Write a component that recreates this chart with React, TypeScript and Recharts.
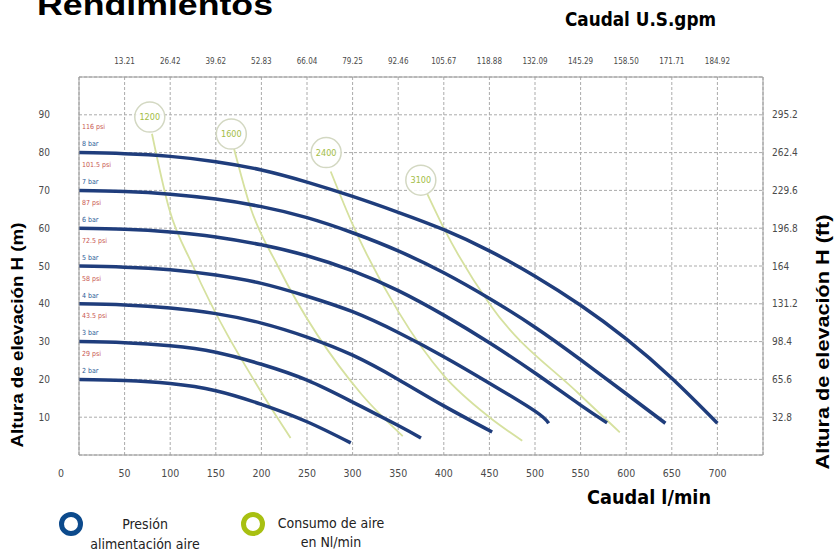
import React from 'react';
import { ComposedChart, Line, Scatter, XAxis, YAxis, CartesianGrid } from 'recharts';

// Axis ticks
const FLOW_TICKS = [0, 50, 100, 150, 200, 250, 300, 350, 400, 450, 500, 550, 600, 650, 700];
const GPM_TICKS = [50, 100, 150, 200, 250, 300, 350, 400, 450, 500, 550, 600, 650, 700];
const GPM_LABELS = ['13.21', '26.42', '39.62', '52.83', '66.04', '79.25', '92.46', '105.67', '118.88', '132.09', '145.29', '158.50', '171.71', '184.92'];
const HEAD_TICKS = [10, 20, 30, 40, 50, 60, 70, 80, 90];
const FT_LABELS = ['32.8', '65.6', '98.4', '131.2', '164', '196.8', '229.6', '262.4', '295.2'];

// Pump curves per air supply pressure: [flow l/min, head m]
const BAR_8 = [[0, 80], [50, 79.7], [100, 79], [150, 77.6], [200, 75.4], [250, 72.2], [300, 68.4], [350, 64.2], [400, 59.6], [450, 54], [500, 47.3], [550, 39.6], [600, 30.7], [650, 20.3], [700, 8.4]];
const BAR_7 = [[0, 70], [50, 69.7], [100, 69], [150, 67.7], [200, 65.7], [250, 62.8], [300, 58.8], [350, 54], [400, 48.2], [450, 41.4], [500, 33.8], [550, 25.2], [600, 16.2], [643, 8.4]];
const BAR_6 = [[0, 60], [50, 59.7], [100, 59], [150, 57.7], [200, 55.6], [250, 52.7], [300, 48.7], [350, 43.5], [400, 37], [450, 29.7], [500, 21.7], [550, 13.2], [579, 8.5]];
const BAR_5 = [[0, 50], [50, 49.7], [100, 49], [150, 47.6], [200, 45.4], [250, 42], [300, 37.9], [350, 32.4], [400, 26], [450, 19], [500, 11.6], [515, 8.4]];
const BAR_4 = [[0, 40], [50, 39.7], [100, 38.9], [150, 37.4], [200, 34.9], [250, 31.2], [300, 26.4], [350, 20], [400, 13], [453, 6.1]];
const BAR_3 = [[0, 30], [50, 29.7], [100, 28.9], [150, 27.2], [200, 24], [250, 19.8], [300, 14], [350, 7.8], [375, 4.5]];
const BAR_2 = [[0, 20], [50, 19.7], [100, 18.9], [150, 17], [200, 13.4], [250, 8.8], [298, 3.2]];

// Air consumption lines (Nl/min)
const AIR_1200 = [[80, 85], [99, 65], [125, 50], [203, 15.4], [232, 4.5]];
const AIR_1600 = [[170, 81], [188, 65.5], [218, 50], [310, 16], [355, 5]];
const AIR_2400 = [[276, 75], [300, 61], [350, 38], [400, 21], [450, 10], [486, 3.8]];
const AIR_3100 = [[382, 69], [400, 60], [450, 40], [549, 16], [593, 6]];

const PRESSURES = ['8 bar', '7 bar', '6 bar', '5 bar', '4 bar', '3 bar', '2 bar'];
const PSI = ['116 psi', '101.5 psi', '87 psi', '72.5 psi', '58 psi', '43.5 psi', '29 psi'];
const START_HEADS = [80, 70, 60, 50, 40, 30, 20];

const AIR_LABELS = ['1200', '1600', '2400', '3100'];
const AIR_BUBBLE_Q = [77.6, 167, 271, 374.8];
const AIR_BUBBLE_H = [89.4, 84.9, 80, 72.7];

const COLORS = {
  curve: '#1f3d7c',
  air: '#d6e19f',
  bubble: '#d3d8c2',
  bubbleText: '#a3bd45',
  grid: '#ababab',
  frame: '#9a9a9a',
  tick: '#4a4a4a',
  psi: '#c8564f',
  bar: '#2d5b97',
  legendBlue: '#0c4a8c',
  legendGreen: '#a8c012',
};

const NARROW = '"Liberation Sans Narrow", "DejaVu Sans Condensed", "Roboto Condensed", sans-serif';
const SANS = '"Liberation Sans", Arial, sans-serif';

const toPts = (arr: number[][]) => arr.map(([q, h]) => ({ q, h }));

const PUMP_CURVES = [BAR_8, BAR_7, BAR_6, BAR_5, BAR_4, BAR_3, BAR_2].map(toPts);
const AIR_CURVES = [AIR_1200, AIR_1600, AIR_2400, AIR_3100].map(toPts);

const barLabelPts = PRESSURES.map((t, i) => ({ q: 3.3, h: START_HEADS[i] + 2.3, text: t }));
const psiLabelPts = PSI.map((t, i) => ({ q: 3.3, h: START_HEADS[i] + 6.8, text: t }));
const bubblePts = AIR_LABELS.map((t, i) => ({ q: AIR_BUBBLE_Q[i], h: AIR_BUBBLE_H[i], text: t }));
const gpmPts = GPM_TICKS.map((q) => ({ q, h: 0 }));

const FlowTick = (props: any) => {
  const { x, y, payload } = props;
  const shift = payload.value === 0 ? -18 : 0;
  return (
    <text x={x + shift} y={y} dy={8} textAnchor="middle" fill={COLORS.tick} fontSize={10.5} fontFamily={NARROW}>
      {payload.value}
    </text>
  );
};

const GpmTick = (props: any) => {
  const { x, y, payload } = props;
  const label = GPM_LABELS[GPM_TICKS.indexOf(payload.value)];
  return (
    <text x={x} y={y} textAnchor="middle" fill={COLORS.tick} fontSize={8} fontFamily={NARROW}>
      {label}
    </text>
  );
};

const App: React.FC = () => {
  return (
    <div style={{ position: 'absolute', left: 0, top: 0, width: 837, height: 553, background: '#fff' }}>
      <ComposedChart width={837} height={553} margin={{ top: 47, right: 34, bottom: 68, left: 39 }}>
        <CartesianGrid xAxisId="lpm" yAxisId="m" stroke={COLORS.grid} strokeDasharray="3 2" />
        <XAxis
          xAxisId="lpm"
          dataKey="q"
          type="number"
          domain={[0, 750]}
          ticks={FLOW_TICKS}
          interval={0}
          height={30}
          tickSize={0}
          tickMargin={14}
          axisLine={{ stroke: COLORS.frame }}
          tick={<FlowTick />}
          allowDataOverflow
        />
        <XAxis
          xAxisId="gpm"
          dataKey="q"
          orientation="top"
          type="number"
          domain={[0, 750]}
          ticks={GPM_TICKS}
          interval={0}
          height={30}
          tickSize={0}
          tickMargin={13}
          axisLine={{ stroke: COLORS.frame }}
          tick={<GpmTick />}
          allowDataOverflow
        />
        <YAxis
          yAxisId="m"
          type="number"
          domain={[0, 100]}
          ticks={HEAD_TICKS}
          interval={0}
          width={40}
          tickSize={0}
          tickMargin={29}
          axisLine={{ stroke: COLORS.frame }}
          tick={{ fill: COLORS.tick, fontSize: 10, fontFamily: NARROW }}
          allowDataOverflow
        />
        <YAxis
          yAxisId="ft"
          orientation="right"
          type="number"
          domain={[0, 100]}
          ticks={HEAD_TICKS}
          interval={0}
          width={40}
          tickSize={0}
          tickMargin={9}
          axisLine={{ stroke: COLORS.frame }}
          tick={{ fill: COLORS.tick, fontSize: 10, fontFamily: NARROW, textAnchor: 'start' }}
          tickFormatter={(v: number) => FT_LABELS[HEAD_TICKS.indexOf(v)]}
          allowDataOverflow
        />

        {/* invisible series that ties the top gpm axis to the flow values */}
        <Line
          xAxisId="gpm"
          yAxisId="ft"
          data={gpmPts}
          dataKey="h"
          stroke="none"
          dot={false}
          activeDot={false}
          isAnimationActive={false}
        />

        {AIR_CURVES.map((pts, i) => (
          <Line
            key={`air-${i}`}
            xAxisId="lpm"
            yAxisId="m"
            data={pts}
            dataKey="h"
            type="monotone"
            stroke={COLORS.air}
            strokeWidth={1.8}
            dot={false}
            activeDot={false}
            isAnimationActive={false}
          />
        ))}

        <Scatter
          xAxisId="lpm"
          yAxisId="m"
          data={bubblePts}
          dataKey="h"
          isAnimationActive={false}
          shape={(p: any) => (
            <g>
              <circle cx={p.cx} cy={p.cy} r={15} fill="#fff" fillOpacity={0.85} stroke={COLORS.bubble} strokeWidth={1.5} />
              <text x={p.cx} y={p.cy} dy="0.35em" textAnchor="middle" fontSize={9} fontFamily={NARROW} fill={COLORS.bubbleText}>
                {p.payload.text}
              </text>
            </g>
          )}
        />

        {PUMP_CURVES.map((pts, i) => (
          <Line
            key={`bar-${i}`}
            xAxisId="lpm"
            yAxisId="m"
            data={pts}
            dataKey="h"
            type="natural"
            stroke={COLORS.curve}
            strokeWidth={3.5}
            dot={false}
            activeDot={false}
            isAnimationActive={false}
          />
        ))}

        <Scatter
          xAxisId="lpm"
          yAxisId="m"
          data={psiLabelPts}
          dataKey="h"
          isAnimationActive={false}
          shape={(p: any) => (
            <text x={p.cx} y={p.cy} dy="0.35em" fontSize={7} fontFamily={NARROW} fill={COLORS.psi}>
              {p.payload.text}
            </text>
          )}
        />
        <Scatter
          xAxisId="lpm"
          yAxisId="m"
          data={barLabelPts}
          dataKey="h"
          isAnimationActive={false}
          shape={(p: any) => (
            <text x={p.cx} y={p.cy} dy="0.35em" fontSize={7} fontFamily={NARROW} fill={COLORS.bar}>
              {p.payload.text}
            </text>
          )}
        />
      </ComposedChart>

      <svg width={837} height={553} style={{ position: 'absolute', left: 0, top: 0, pointerEvents: 'none' }}>
        <text x={37} y={15} fontSize={29} fontWeight="bold" fontFamily={SANS} fill="#000" textLength={236} lengthAdjust="spacingAndGlyphs">
          Rendimientos
        </text>
        <text x={565} y={26} fontSize={19} fontWeight="bold" fontFamily={NARROW} fill="#000" textLength={151} lengthAdjust="spacingAndGlyphs">
          Caudal U.S.gpm
        </text>
        <text x={587} y={504} fontSize={19} fontWeight="bold" fontFamily={NARROW} fill="#000" textLength={124} lengthAdjust="spacingAndGlyphs">
          Caudal l/min
        </text>
        <text
          x={17}
          y={335}
          transform="rotate(-90 17 335)"
          textAnchor="middle"
          dominantBaseline="central"
          fontSize={16}
          fontWeight="bold"
          fontFamily={SANS}
          fill="#000"
          textLength={225}
          lengthAdjust="spacingAndGlyphs"
        >
          Altura de elevación H (m)
        </text>
        <text
          x={823}
          y={342}
          transform="rotate(-90 823 342)"
          textAnchor="middle"
          dominantBaseline="central"
          fontSize={17.5}
          fontWeight="bold"
          fontFamily={SANS}
          fill="#000"
          textLength={255}
          lengthAdjust="spacingAndGlyphs"
        >
          Altura de elevación H (ft)
        </text>

        <circle cx={71} cy={524} r={9.5} fill="none" stroke={COLORS.legendBlue} strokeWidth={5} />
        <text x={145} y={529} textAnchor="middle" fontSize={14} fontFamily={NARROW} fill="#222">Presión</text>
        <text x={145} y={549} textAnchor="middle" fontSize={14} fontFamily={NARROW} fill="#222">alimentación aire</text>

        <circle cx={253} cy={524} r={9.5} fill="none" stroke={COLORS.legendGreen} strokeWidth={5} />
        <text x={331} y={528} textAnchor="middle" fontSize={14} fontFamily={NARROW} fill="#222">Consumo de aire</text>
        <text x={331} y={547} textAnchor="middle" fontSize={14} fontFamily={NARROW} fill="#222">en Nl/min</text>
      </svg>
    </div>
  );
};

export default App;
